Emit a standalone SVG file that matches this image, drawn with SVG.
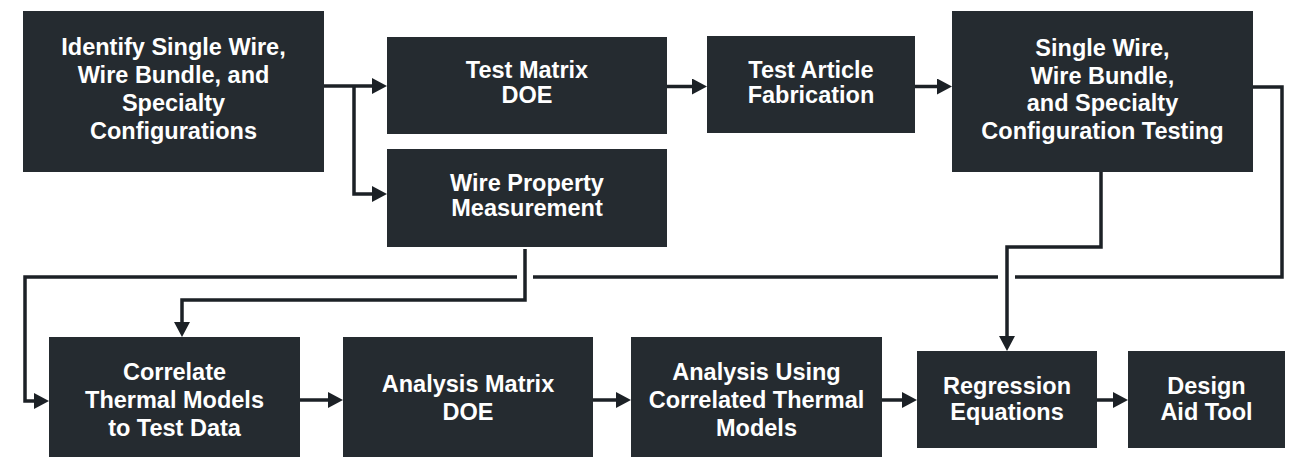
<svg xmlns="http://www.w3.org/2000/svg" width="1297" height="457" viewBox="0 0 1297 457">
<style>
  .box { fill: #252b30; }
  .lbl { fill: #ffffff; font-family: "Liberation Sans", Arial, sans-serif; font-weight: bold; font-size: 23.5px; text-anchor: middle; }
  .conn { fill: none; stroke: #1c2126; stroke-width: 3.5; stroke-linejoin: miter; }
  .arr { marker-end: url(#ah); }
</style>
<defs>
  <marker id="ah" markerUnits="userSpaceOnUse" markerWidth="15" markerHeight="16" refX="7" refY="8" orient="auto">
    <path d="M0,0 L15,8 L0,16 Z" fill="#1c2126"/>
  </marker>
</defs>
<rect width="1297" height="457" fill="#ffffff"/>

<g id="connectors">
  <path class="conn arr" d="M324,86 H379"/>
  <path class="conn arr" d="M354,86 V194 H379"/>
  <path class="conn arr" d="M667,86.5 H699"/>
  <path class="conn arr" d="M915,86.5 H944"/>
  <path class="conn" d="M1253,87 H1282 V277 H1015"/>
  <path class="conn" d="M998,277 H533"/>
  <path class="conn arr" d="M517,277 H25 V401 H41"/>
  <path class="conn arr" d="M525,249 V300 H182 V329"/>
  <path class="conn arr" d="M1101,172 V247 H1007 V343"/>
  <path class="conn arr" d="M300,400 H335"/>
  <path class="conn arr" d="M593,400 H623"/>
  <path class="conn arr" d="M882,400 H909"/>
  <path class="conn arr" d="M1097,400 H1120"/>
</g>

<g id="identify">
  <rect class="box" x="23" y="11" width="301" height="161"/>
  <text class="lbl" x="173.5" y="55">Identify Single Wire,</text>
  <text class="lbl" x="173.5" y="83">Wire Bundle, and</text>
  <text class="lbl" x="173.5" y="111">Specialty</text>
  <text class="lbl" x="173.5" y="139">Configurations</text>
</g>

<g id="test-matrix">
  <rect class="box" x="387" y="37" width="280" height="97"/>
  <text class="lbl" x="527" y="78">Test Matrix</text>
  <text class="lbl" x="527" y="103">DOE</text>
</g>

<g id="wire-property">
  <rect class="box" x="387" y="149" width="280" height="98"/>
  <text class="lbl" x="527" y="191">Wire Property</text>
  <text class="lbl" x="527" y="216">Measurement</text>
</g>

<g id="test-article">
  <rect class="box" x="707" y="36" width="208" height="97"/>
  <text class="lbl" x="811" y="78">Test Article</text>
  <text class="lbl" x="811" y="103">Fabrication</text>
</g>

<g id="testing">
  <rect class="box" x="952" y="11" width="301" height="161"/>
  <text class="lbl" x="1102.5" y="56">Single Wire,</text>
  <text class="lbl" x="1102.5" y="84">Wire Bundle,</text>
  <text class="lbl" x="1102.5" y="111">and Specialty</text>
  <text class="lbl" x="1102.5" y="139">Configuration Testing</text>
</g>

<g id="correlate">
  <rect class="box" x="49" y="337" width="251" height="120"/>
  <text class="lbl" x="174.5" y="380">Correlate</text>
  <text class="lbl" x="174.5" y="408">Thermal Models</text>
  <text class="lbl" x="174.5" y="436">to Test Data</text>
</g>

<g id="analysis-matrix">
  <rect class="box" x="343" y="337" width="250" height="120"/>
  <text class="lbl" x="468" y="392">Analysis Matrix</text>
  <text class="lbl" x="468" y="420">DOE</text>
</g>

<g id="analysis-using">
  <rect class="box" x="631" y="337" width="251" height="120"/>
  <text class="lbl" x="756.5" y="380">Analysis Using</text>
  <text class="lbl" x="756.5" y="408">Correlated Thermal</text>
  <text class="lbl" x="756.5" y="436">Models</text>
</g>

<g id="regression">
  <rect class="box" x="917" y="351" width="180" height="97"/>
  <text class="lbl" x="1007" y="394">Regression</text>
  <text class="lbl" x="1007" y="420">Equations</text>
</g>

<g id="design-aid">
  <rect class="box" x="1128" y="351" width="157" height="97"/>
  <text class="lbl" x="1206.5" y="394">Design</text>
  <text class="lbl" x="1206.5" y="420">Aid Tool</text>
</g>
</svg>
